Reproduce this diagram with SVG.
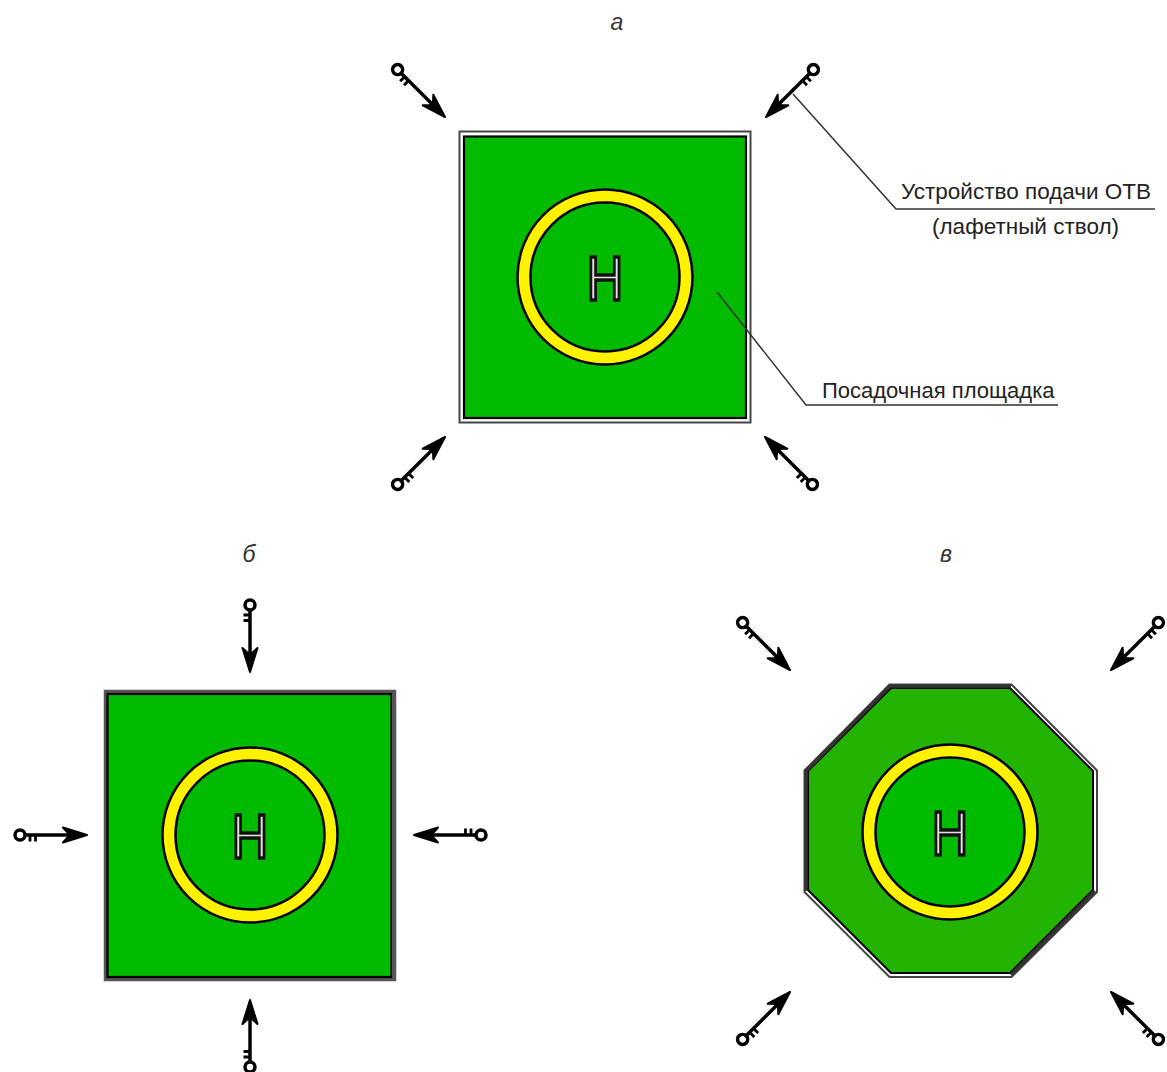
<svg xmlns="http://www.w3.org/2000/svg" width="1167" height="1072" viewBox="0 0 1167 1072">
<style>
.t{font-family:"Liberation Sans",Arial,sans-serif;font-size:22px;fill:#222}
.w{font-size:22.500px}
.i{font-family:"Liberation Sans",Arial,sans-serif;font-size:23px;font-style:italic;fill:#333;text-anchor:middle}
.h{font-family:"Liberation Sans",Arial,sans-serif;font-size:63px;fill:#e4e4e4;stroke:#111;stroke-width:3.500;text-anchor:middle}
.leader{fill:none;stroke:#333;stroke-width:1.500}
.ob{fill:#fff;stroke:#444;stroke-width:2}
.ob2{fill:none;stroke:#555;stroke-width:3.500}
.ib{stroke:#000;stroke-width:2.200}
.ry{fill:#fff200;stroke:#000;stroke-width:2.500}
.rg{fill:#00bb00;stroke:#000;stroke-width:2.500}
.k{fill:none;stroke:#000;stroke-width:3.500}
</style>
<defs>
<g id="key">
<circle class="k" cx="-67" cy="0" r="5"/>
<path class="k" d="M-62 0H-8"/>
<path d="M-57 0V6.500M-51.500 0V6.500" fill="none" stroke="#000" stroke-width="2.800"/>
<path d="M0 0L-24 -7.500L-19 -2L-19 2L-24 7.500Z" fill="#000" stroke="#000" stroke-width="2" stroke-linejoin="round"/>
</g>
<g id="ring">
<circle class="ry" r="87.500"/>
<circle class="rg" r="74.500"/>
<text class="h" transform="translate(0 23) scale(.8 1)">H</text>
</g>
</defs>
<g id="label-a"><text class="i" x="617" y="30">а</text></g>
<g id="label-b"><text class="i" x="249" y="562">б</text></g>
<g id="label-c"><text class="i" x="946" y="562">в</text></g>
<g id="pad-a">
<rect class="ob" x="459.500" y="131.500" width="291" height="291"/>
<rect class="ib" x="464" y="136.500" width="282" height="281.500" fill="#00bb00"/>
<use href="#ring" x="605" y="277"/>
</g>
<g id="pad-b">
<rect class="ob2" x="105.500" y="691.500" width="289" height="288"/>
<rect class="ib" x="107.500" y="694" width="284" height="283" fill="#00bb00"/>
<use href="#ring" x="250" y="835"/>
</g>
<g id="pad-c">
<path d="M889.500 684.500H1011.500L1097 770.500V892L1011.500 977H889.500L804.500 892V770.500Z" fill="#fff" stroke="#444" stroke-width="2"/>
<path d="M891 688H1010L1093 771V890L1010 973H891L808 890V771Z" fill="#22b400" stroke="#000" stroke-width="2"/>
<path d="M1011 686H890L806 771V891M1095 891L1011 975" fill="none" stroke="#333" stroke-width="3.500"/>
<use href="#ring" x="950" y="832"/>
</g>
<g id="connectors">
<path class="leader" d="M793 94L896 209H1155"/>
<path class="leader" d="M717 292L806 405H1058"/>
</g>
<g id="keys-a">
<use href="#key" transform="translate(445 117) rotate(45)"/>
<use href="#key" transform="translate(766 117) rotate(135) scale(1 -1)"/>
<use href="#key" transform="translate(445 437) rotate(-45)"/>
<use href="#key" transform="translate(765 437) rotate(225) scale(1 -1)"/>
</g>
<g id="keys-b">
<use href="#key" transform="translate(250 672) rotate(90)"/>
<use href="#key" transform="translate(87 835)"/>
<use href="#key" transform="translate(414 835) rotate(180)"/>
<use href="#key" transform="translate(250 1000) rotate(-90) scale(1 -1)"/>
</g>
<g id="keys-c">
<use href="#key" transform="translate(790 670) rotate(45)"/>
<use href="#key" transform="translate(1111 670) rotate(135) scale(1 -1)"/>
<use href="#key" transform="translate(790 992) rotate(-45)"/>
<use href="#key" transform="translate(1111 992) rotate(225) scale(1 -1)"/>
</g>
<g id="callout-device">
<text class="t w" x="901" y="199">Устройство подачи ОТВ</text>
<text class="t w" x="932" y="234">(лафетный ствол)</text>
</g>
<g id="callout-pad"><text class="t" x="822" y="398">Посадочная площадка</text></g>
</svg>
